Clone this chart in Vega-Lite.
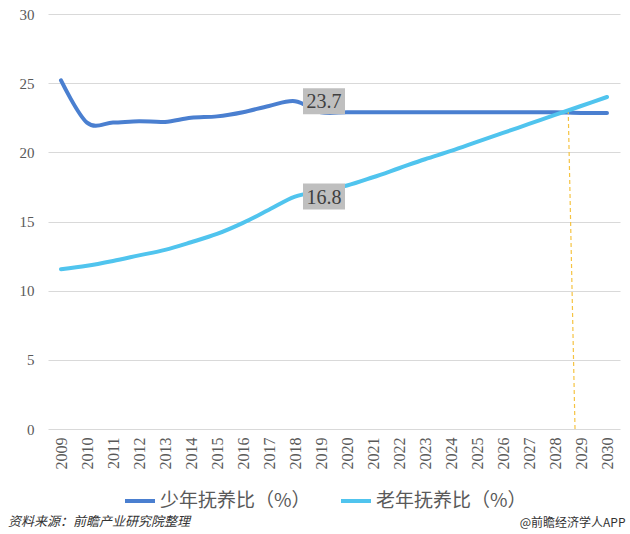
{
  "$schema": "https://vega.github.io/schema/vega-lite/v6.json",
  "width": 572,
  "height": 415,
  "autosize": {"type": "none"},
  "padding": {"left": 48, "top": 14, "right": 10, "bottom": 105},
  "background": "#ffffff",
  "config": {"view": {"stroke": null}},
  "title": {
    "text": "资料来源：前瞻产业研究院整理",
    "orient": "bottom",
    "anchor": "start",
    "frame": "group",
    "font": "Noto Sans CJK SC",
    "fontSize": 13,
    "fontStyle": "italic",
    "fontWeight": "normal",
    "color": "#333333",
    "dx": -40,
    "offset": 10,
    "dy": -22
  },
  "datasets": {
    "main": [
      {"year": "2009", "series": "少年抚养比（%）", "value": 25.2},
      {"year": "2010", "series": "少年抚养比（%）", "value": 22.15},
      {"year": "2011", "series": "少年抚养比（%）", "value": 22.15},
      {"year": "2012", "series": "少年抚养比（%）", "value": 22.25},
      {"year": "2013", "series": "少年抚养比（%）", "value": 22.2},
      {"year": "2014", "series": "少年抚养比（%）", "value": 22.5},
      {"year": "2015", "series": "少年抚养比（%）", "value": 22.6},
      {"year": "2016", "series": "少年抚养比（%）", "value": 22.9},
      {"year": "2017", "series": "少年抚养比（%）", "value": 23.35},
      {"year": "2018", "series": "少年抚养比（%）", "value": 23.7},
      {"year": "2019", "series": "少年抚养比（%）", "value": 22.9},
      {"year": "2020", "series": "少年抚养比（%）", "value": 22.9},
      {"year": "2021", "series": "少年抚养比（%）", "value": 22.9},
      {"year": "2022", "series": "少年抚养比（%）", "value": 22.9},
      {"year": "2023", "series": "少年抚养比（%）", "value": 22.9},
      {"year": "2024", "series": "少年抚养比（%）", "value": 22.9},
      {"year": "2025", "series": "少年抚养比（%）", "value": 22.9},
      {"year": "2026", "series": "少年抚养比（%）", "value": 22.9},
      {"year": "2027", "series": "少年抚养比（%）", "value": 22.9},
      {"year": "2028", "series": "少年抚养比（%）", "value": 22.9},
      {"year": "2029", "series": "少年抚养比（%）", "value": 22.85},
      {"year": "2030", "series": "少年抚养比（%）", "value": 22.85},
      {"year": "2009", "series": "老年抚养比（%）", "value": 11.55},
      {"year": "2010", "series": "老年抚养比（%）", "value": 11.8},
      {"year": "2011", "series": "老年抚养比（%）", "value": 12.15},
      {"year": "2012", "series": "老年抚养比（%）", "value": 12.55},
      {"year": "2013", "series": "老年抚养比（%）", "value": 12.95},
      {"year": "2014", "series": "老年抚养比（%）", "value": 13.5},
      {"year": "2015", "series": "老年抚养比（%）", "value": 14.1},
      {"year": "2016", "series": "老年抚养比（%）", "value": 14.9},
      {"year": "2017", "series": "老年抚养比（%）", "value": 15.85},
      {"year": "2018", "series": "老年抚养比（%）", "value": 16.8},
      {"year": "2019", "series": "老年抚养比（%）", "value": 17.2},
      {"year": "2020", "series": "老年抚养比（%）", "value": 17.6},
      {"year": "2021", "series": "老年抚养比（%）", "value": 18.2},
      {"year": "2022", "series": "老年抚养比（%）", "value": 18.85},
      {"year": "2023", "series": "老年抚养比（%）", "value": 19.5},
      {"year": "2024", "series": "老年抚养比（%）", "value": 20.1},
      {"year": "2025", "series": "老年抚养比（%）", "value": 20.75},
      {"year": "2026", "series": "老年抚养比（%）", "value": 21.4},
      {"year": "2027", "series": "老年抚养比（%）", "value": 22.05},
      {"year": "2028", "series": "老年抚养比（%）", "value": 22.7},
      {"year": "2029", "series": "老年抚养比（%）", "value": 23.35},
      {"year": "2030", "series": "老年抚养比（%）", "value": 24.0}
    ],
    "guide": [
      {"xa": 2028.77, "xb": 2028.51, "ya": 0, "yb": 22.9}
    ]
  },
  "resolve": {"scale": {"x": "independent"}, "axis": {"x": "independent"}},
  "layer": [
    {
      "data": {"name": "main"},
      "encoding": {
        "x": {
          "field": "year",
          "type": "ordinal",
          "scale": {"type": "point", "padding": 0.5},
          "axis": {
            "labelAngle": 270,
            "labelFont": "Liberation Serif",
            "labelFontSize": 16,
            "labelColor": "#595959",
            "labelPadding": 8,
            "labelOverlap": false,
            "ticks": false,
            "domain": false,
            "grid": false,
            "title": "@前瞻经济学人APP",
            "titleFont": "Noto Sans CJK SC",
            "titleFontSize": 12,
            "titleFontWeight": "normal",
            "titleColor": "#333333",
            "titleAnchor": "end",
            "titleAlign": "right",
            "titleBaseline": "alphabetic",
            "titleX": 577,
            "titleY": 97
          }
        },
        "y": {
          "field": "value",
          "type": "quantitative",
          "scale": {"domain": [0, 30], "nice": false},
          "axis": {
            "values": [0, 5, 10, 15, 20, 25, 30],
            "labelFont": "Liberation Serif",
            "labelFontSize": 15,
            "labelColor": "#595959",
            "labelPadding": 14,
            "ticks": false,
            "domain": false,
            "gridColor": "#d9d9d9",
            "gridWidth": 1,
            "title": null
          }
        }
      },
      "layer": [
        {
          "mark": {"type": "line", "strokeWidth": 4, "interpolate": "cardinal", "strokeCap": "round"},
          "encoding": {
            "color": {
              "field": "series",
              "type": "nominal",
              "scale": {"domain": ["少年抚养比（%）", "老年抚养比（%）"], "range": ["#4a7fd0", "#50c4ee"]},
              "legend": {
                "title": null,
                "orient": "none",
                "direction": "horizontal",
                "legendX": 75,
                "legendY": 470,
                "symbolType": "stroke",
                "symbolSize": 900,
                "symbolStrokeWidth": 4,
                "labelFont": "Noto Sans CJK SC",
                "labelFontSize": 19,
                "labelColor": "#595959",
                "labelOffset": 3,
                "columnPadding": 22,
                "labelLimit": 300
              }
            }
          }
        },
        {
          "transform": [{"filter": "datum.year == '2018'"}],
          "mark": {"type": "point", "shape": "M-1,-0.62H1V0.62H-1Z", "size": 1764, "filled": true, "opacity": 1, "color": "#bfbfbf", "xOffset": 29}
        },
        {
          "transform": [{"filter": "datum.year == '2018'"}],
          "mark": {"type": "text", "font": "Liberation Serif", "fontSize": 20, "color": "#404040", "xOffset": 29, "align": "center", "baseline": "middle", "dy": 1},
          "encoding": {
            "text": {"field": "value", "type": "quantitative", "format": ".1f"}
          }
        }
      ]
    },
    {
      "data": {"name": "guide"},
      "mark": {"type": "rule", "color": "#f5c342", "strokeWidth": 1.2, "strokeDash": [4, 3]},
      "encoding": {
        "x": {"field": "xa", "type": "quantitative", "scale": {"domain": [2008.5, 2030.5], "nice": false, "zero": false}, "axis": null},
        "x2": {"field": "xb"},
        "y": {"field": "ya", "type": "quantitative"},
        "y2": {"field": "yb"}
      }
    }
  ]
}
